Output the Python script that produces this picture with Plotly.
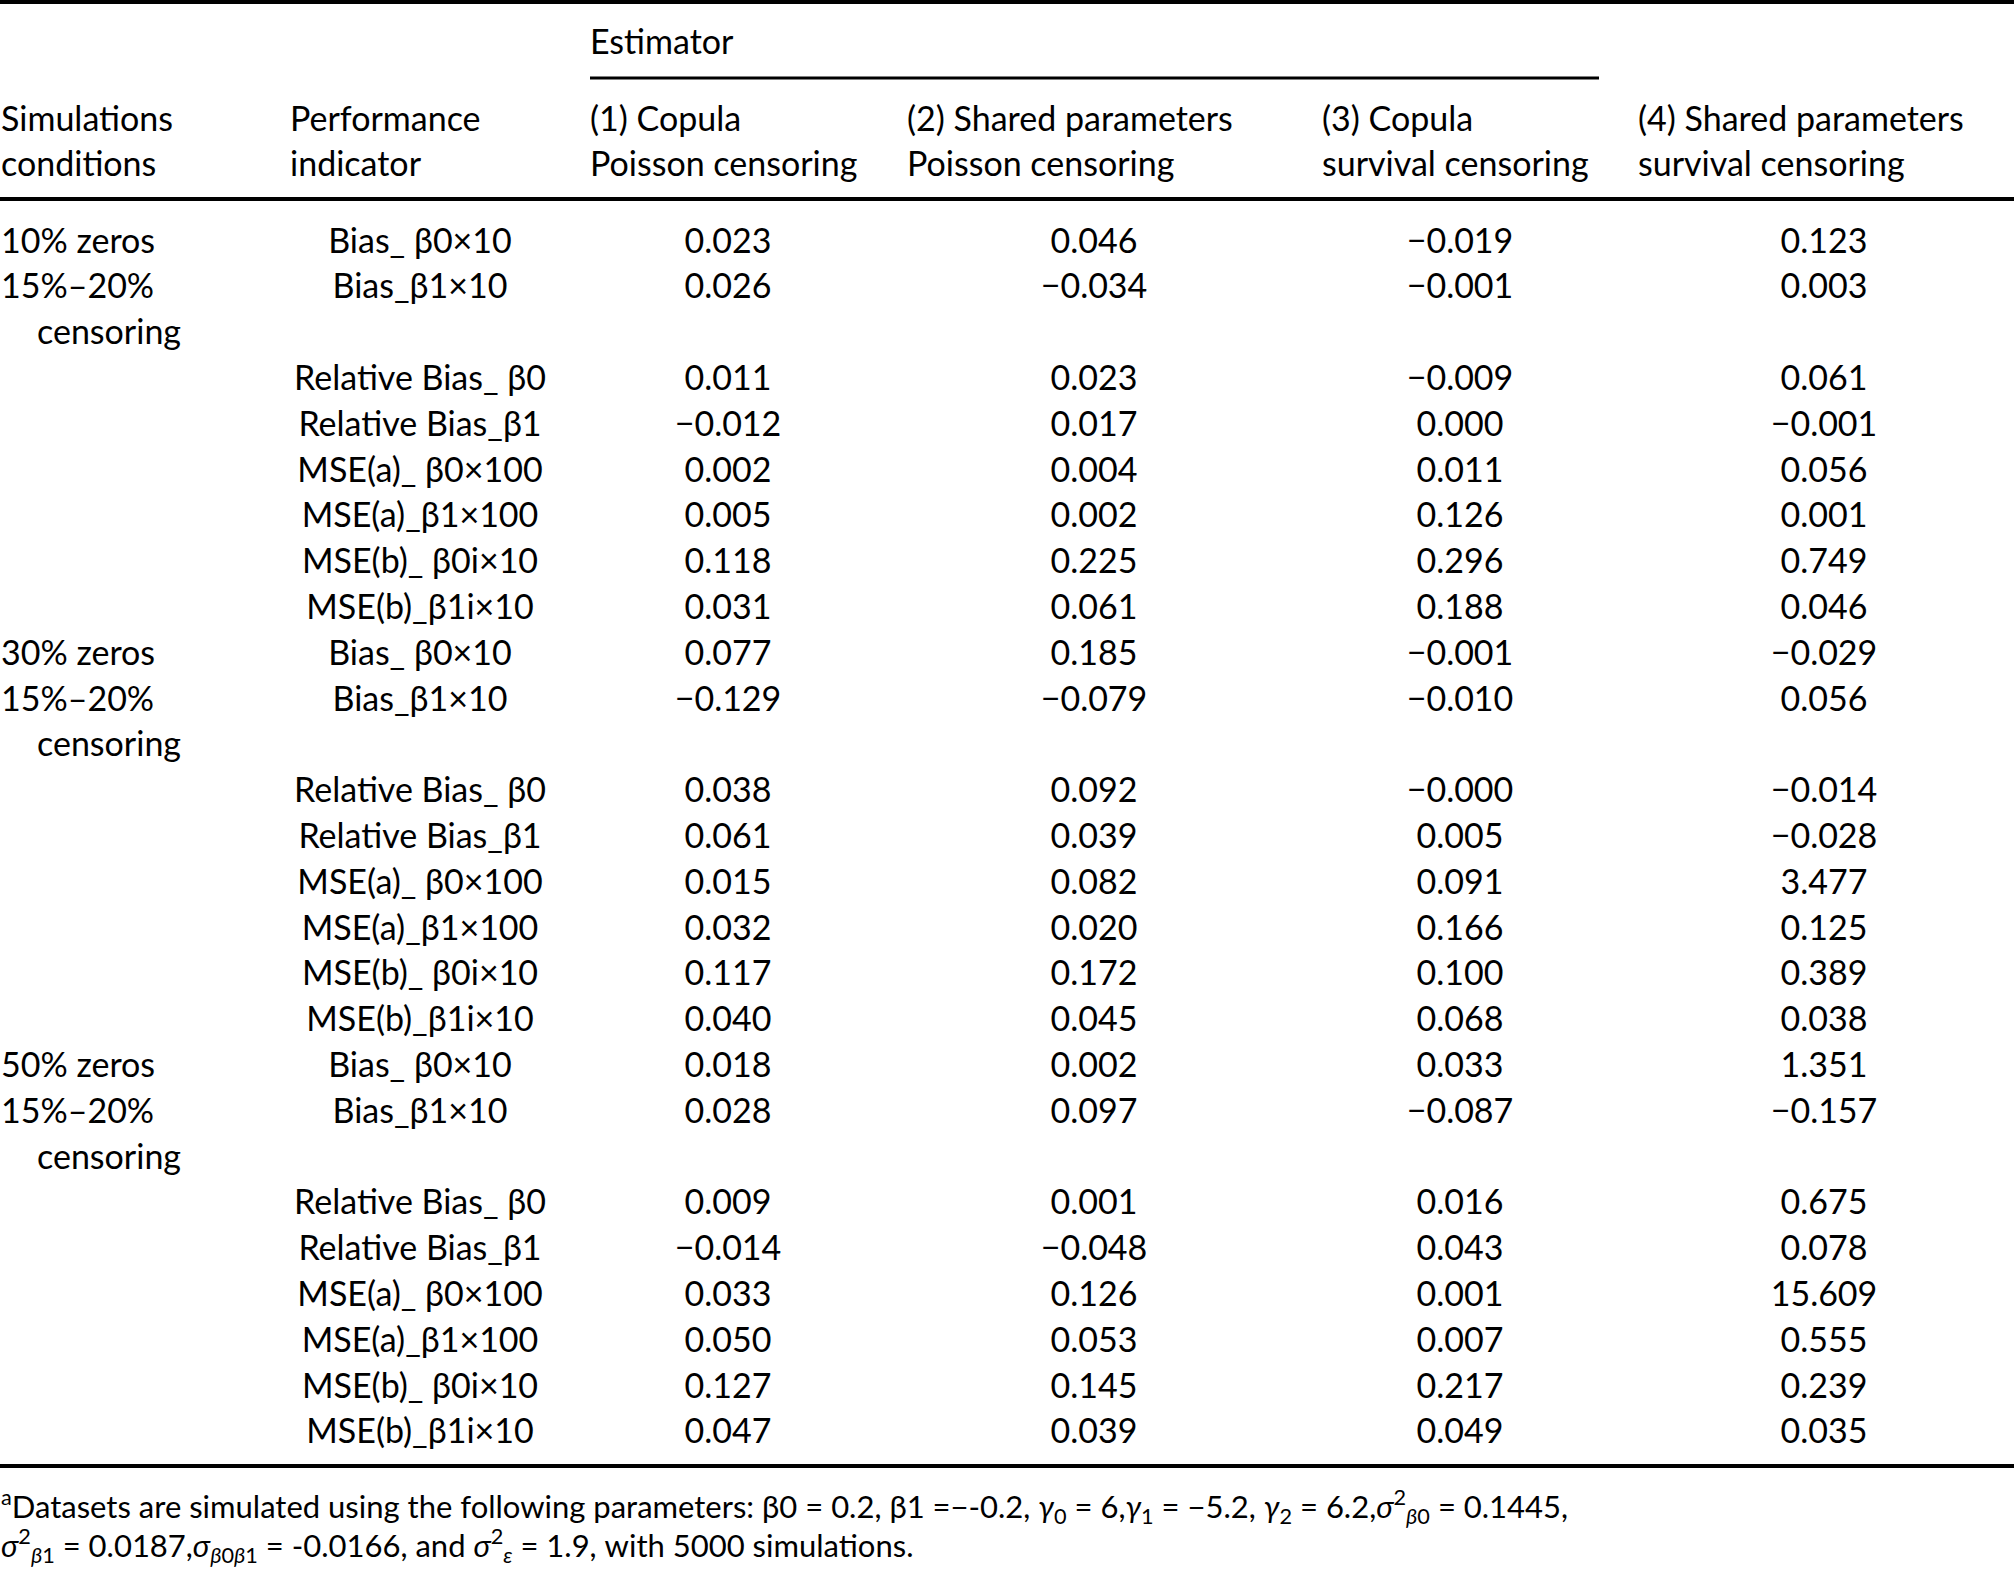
import plotly.graph_objects as go

# Table content
conditions = ["10% zeros", "30% zeros", "50% zeros"]
censoring_line = "15%–20%"
indicators = ["Bias_ β0×10", "Bias_β1×10", "Relative Bias_ β0", "Relative Bias_β1",
              "MSE(a)_ β0×100", "MSE(a)_β1×100", "MSE(b)_ β0i×10", "MSE(b)_β1i×10"]

estimator_headers = [("(1) Copula", "Poisson censoring"),
                     ("(2) Shared parameters", "Poisson censoring"),
                     ("(3) Copula", "survival censoring"),
                     ("(4) Shared parameters", "survival censoring")]

copula_poisson = ["0.023", "0.026", "0.011", "−0.012", "0.002", "0.005", "0.118", "0.031",
                  "0.077", "−0.129", "0.038", "0.061", "0.015", "0.032", "0.117", "0.040",
                  "0.018", "0.028", "0.009", "−0.014", "0.033", "0.050", "0.127", "0.047"]
shared_poisson = ["0.046", "−0.034", "0.023", "0.017", "0.004", "0.002", "0.225", "0.061",
                  "0.185", "−0.079", "0.092", "0.039", "0.082", "0.020", "0.172", "0.045",
                  "0.002", "0.097", "0.001", "−0.048", "0.126", "0.053", "0.145", "0.039"]
copula_survival = ["−0.019", "−0.001", "−0.009", "0.000", "0.011", "0.126", "0.296", "0.188",
                   "−0.001", "−0.010", "−0.000", "0.005", "0.091", "0.166", "0.100", "0.068",
                   "0.033", "−0.087", "0.016", "0.043", "0.001", "0.007", "0.217", "0.049"]
shared_survival = ["0.123", "0.003", "0.061", "−0.001", "0.056", "0.001", "0.749", "0.046",
                   "−0.029", "0.056", "−0.014", "−0.028", "3.477", "0.125", "0.389", "0.038",
                   "1.351", "−0.157", "0.675", "0.078", "15.609", "0.555", "0.239", "0.035"]

footnote_1 = ("<sup>a</sup>Datasets are simulated using the following parameters: β0 = 0.2, β1 =−-0.2, "
              "<i>γ</i><sub>0</sub> = 6,<i>γ</i><sub>1</sub> = −5.2, <i>γ</i><sub>2</sub> = 6.2,"
              "<i>σ</i><sup>2</sup><sub><i>β</i>0</sub> = 0.1445,")
footnote_2 = ("<i>σ</i><sup>2</sup><sub><i>β</i>1</sub> = 0.0187,<i>σ</i><sub><i>β</i>0<i>β</i>1</sub> = -0.0166, "
              "and <i>σ</i><sup>2</sup><sub><i>ε</i></sub> = 1.9, with 5000 simulations.")

# Layout geometry (page pixels)
W, H = 2014, 1572
FONT = "Lato"
FS = 34
DY = 4  # text baseline nudge
row0_y, row_h = 240, 45.8
col_left = [1, 290, 590, 907, 1322, 1638]
col_center = [None, 420, 728, 1094, 1460, 1824]
est_cols = [copula_poisson, shared_poisson, copula_survival, shared_survival]

# row index per group: 0,1 = bias rows, 2 = censoring line, 3..8 = other rows
def row_y(group, k):
    return row0_y + DY + (group * 9 + k) * row_h

ind_rows = [0, 1, 3, 4, 5, 6, 7, 8]

fig = go.Figure()

def add_text(xs, ys, texts, pos, size=FS):
    fig.add_trace(go.Scatter(x=xs, y=ys, text=texts, mode="text", textposition=pos,
                             textfont=dict(family=FONT, size=size, color="black"),
                             cliponaxis=False, hoverinfo="skip", showlegend=False))

# header
add_text([col_left[2]], [41 + DY], ["Estimator"], "middle right")
add_text([col_left[0], col_left[1]], [118 + DY] * 2, ["Simulations", "Performance"], "middle right")
add_text([col_left[0], col_left[1]], [163 + DY] * 2, ["conditions", "indicator"], "middle right")
add_text(col_left[2:], [118 + DY] * 4, [h[0] for h in estimator_headers], "middle right")
add_text(col_left[2:], [163 + DY] * 4, [h[1] for h in estimator_headers], "middle right")

# condition column
cx, cy, ct = [], [], []
for g, cond in enumerate(conditions):
    cx += [col_left[0], col_left[0], 37]
    cy += [row_y(g, 0), row_y(g, 1), row_y(g, 2)]
    ct += [cond, censoring_line, "censoring"]
add_text(cx, cy, ct, "middle right")

# indicator column
ix, iy, it = [], [], []
for g in range(3):
    for k, name in zip(ind_rows, indicators):
        ix.append(col_center[1])
        iy.append(row_y(g, k))
        it.append(name)
add_text(ix, iy, it, "middle center")

# estimator value columns
for c, vals in enumerate(est_cols):
    ys = [row_y(g, k) for g in range(3) for k in ind_rows]
    add_text([col_center[c + 2]] * len(vals), ys, vals, "middle center")

# footnote
add_text([1], [1510], [footnote_1], "middle right", size=31)
add_text([1], [1549], [footnote_2], "middle right", size=31)

# rules
for y, lw in [(2, 4), (199, 4), (1466, 4)]:
    fig.add_shape(type="line", x0=0, x1=W, y0=y, y1=y, xref="x", yref="y",
                  line=dict(color="black", width=lw))
fig.add_shape(type="line", x0=col_left[2], x1=1599, y0=78, y1=78, xref="x", yref="y",
              line=dict(color="black", width=3))

fig.update_layout(width=W, height=H, margin=dict(l=0, r=0, t=0, b=0),
                  paper_bgcolor="white", plot_bgcolor="white",
                  xaxis=dict(range=[0, W], visible=False, fixedrange=True),
                  yaxis=dict(range=[H, 0], visible=False, fixedrange=True))

fig.write_html("out.html", config={"displayModeBar": False},
               post_script="document.body.style.margin='0';")
